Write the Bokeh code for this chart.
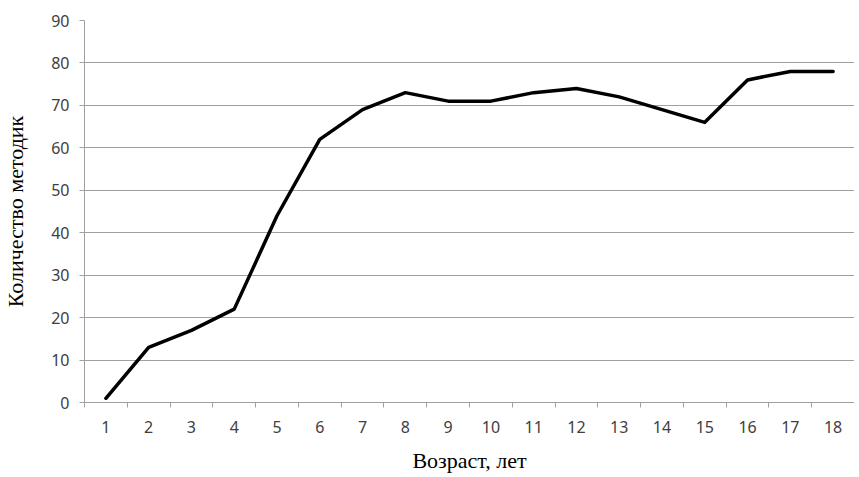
from bokeh.plotting import figure
from bokeh.models import FixedTicker, Range1d
from bokeh.embed import file_html
from bokeh.resources import INLINE

ages = list(range(1, 19))
counts = [1, 13, 17, 22, 44, 62, 69, 73, 71, 71, 73, 74, 72, 69, 66, 76, 78, 78]
y_ticks = list(range(0, 91, 10))
x_title = "Возраст, лет"
y_title = "Количество методик"

p = figure(width=851, height=461, output_backend="svg", toolbar_location=None,
           x_range=Range1d(0.5, 18.5), y_range=Range1d(0, 90),
           min_border_left=76, min_border_right=0, min_border_top=20, min_border_bottom=59,
           frame_width=770, frame_height=382)
p.outline_line_color = None
p.background_fill_color = "white"

p.line(ages, counts, line_color="black", line_width=3.5, line_join="round", line_cap="round")

grid_col = "#a0a0a0"
p.xgrid.grid_line_color = None
p.ygrid.grid_line_color = grid_col
p.ygrid.grid_line_width = 1
p.ygrid.ticker = FixedTicker(ticks=y_ticks)

xa = p.xaxis[0]
xa.ticker = FixedTicker(ticks=ages, minor_ticks=[a - 0.5 for a in ages] + [18.5])
xa.major_tick_line_color = None
xa.major_tick_out = 0
xa.major_tick_in = 0
xa.minor_tick_out = 5
xa.minor_tick_in = 0
xa.minor_tick_line_color = grid_col
xa.axis_line_color = grid_col
xa.major_label_standoff = 13
xa.major_label_text_font = "Noto Sans"
xa.major_label_text_font_size = "16px"
xa.major_label_text_color = "#404040"
xa.axis_label = x_title
xa.axis_label_text_font = "Liberation Serif"
xa.axis_label_text_font_style = "normal"
xa.axis_label_text_font_size = "22px"
xa.axis_label_text_color = "black"
xa.axis_label_standoff = 12

ya = p.yaxis[0]
ya.ticker = FixedTicker(ticks=y_ticks)
ya.minor_tick_line_color = None
ya.major_tick_out = 5
ya.major_tick_in = 0
ya.major_tick_line_color = grid_col
ya.axis_line_color = grid_col
ya.major_label_standoff = 10
ya.major_label_text_font = "Noto Sans"
ya.major_label_text_font_size = "16px"
ya.major_label_text_color = "#404040"
ya.axis_label = y_title
ya.axis_label_text_font = "Liberation Serif"
ya.axis_label_text_font_style = "normal"
ya.axis_label_text_font_size = "22px"
ya.axis_label_text_color = "black"
ya.axis_label_standoff = 20

open("out.html", "w").write(file_html(p, INLINE))
